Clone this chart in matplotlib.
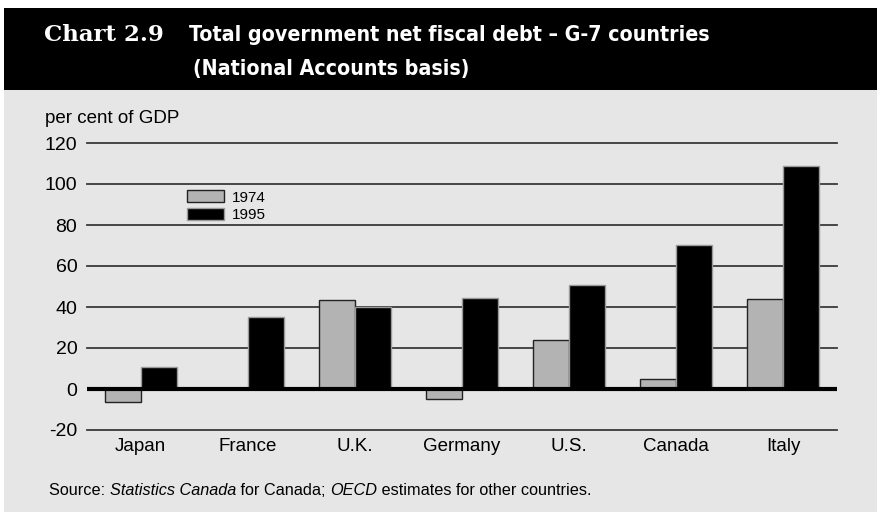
import numpy as np
import matplotlib
matplotlib.use("Agg")
import matplotlib.pyplot as plt
from matplotlib.patches import Rectangle
from matplotlib import font_manager

# data
countries = ["Japan", "France", "U.K.", "Germany", "U.S.", "Canada", "Italy"]
debt_1974 = [-6.3, 0, 43.3, -4.9, 23.7, 4.9, 43.9]
debt_1995 = [10.9, 35, 40, 44.4, 50.9, 70.2, 109]
yticks = [-20, 0, 20, 40, 60, 80, 100, 120]

plt.rcParams['font.family'] = ['Liberation Sans', 'DejaVu Sans']
plt.rcParams['axes.unicode_minus'] = False

W, H = 877, 512
fig = plt.figure(figsize=(W / 100, H / 100), dpi=100)
fig.patch.set_facecolor("white")

# background panels
fig.patches.append(Rectangle((4 / W, 0), 1, (H - 90) / H, transform=fig.transFigure,
                             facecolor="#e6e6e6", edgecolor="none", zorder=-5))
fig.patches.append(Rectangle((4 / W, (H - 90) / H), 1, 82 / H, transform=fig.transFigure,
                             facecolor="black", edgecolor="none", zorder=-5))

# title
fp = font_manager.FontProperties(family="DejaVu Sans", weight="bold", stretch="condensed")
fig.text(44 / W, 1 - 41 / H, "Chart 2.9", color="white", fontsize=16.5, fontweight="bold",
         family=["DejaVu Serif"], va="baseline")
fig.text(189 / W, 1 - 41 / H, "Total government net fiscal debt \u2013 G-7 countries",
         color="white", fontproperties=fp, fontsize=15.3, va="baseline")
fig.text(193 / W, 1 - 75 / H, "(National Accounts basis)",
         color="white", fontproperties=fp, fontsize=15.3, va="baseline")

ax = fig.add_axes([87 / W, (H - 430) / H, 750 / W, 287 / H])
ax.set_facecolor("none")

x = np.arange(len(countries))
w = 36 / 107
ax.bar(x - w / 2, debt_1974, w, color="#b3b3b3", edgecolor="#222222", linewidth=1, label="1974", zorder=3)
ax.bar(x + w / 2, debt_1995, w, color="black", edgecolor="#999999", linewidth=1, label="1995", zorder=3)

ax.set_xlim(-0.5, len(countries) - 0.5)
ax.set_ylim(-20, 120)
ax.set_yticks(yticks)
ax.set_xticks(x)
ax.set_xticklabels(countries)
ax.tick_params(axis="y", length=0, labelsize=14, pad=7)
ax.tick_params(axis="x", length=0, labelsize=13.5, pad=6)

for t in yticks:
    if t != 0:
        ax.axhline(t, color="#3a3a3a", linewidth=1.3, zorder=1, clip_on=False)
ax.axhline(0, color="black", linewidth=3, zorder=4)

for s in ax.spines.values():
    s.set_visible(False)

ax.legend(loc="upper left", bbox_to_anchor=(0.125, 0.856), frameon=False,
          prop={"family": ["Liberation Sans"], "size": 11},
          handlelength=2.4, handleheight=0.78, labelspacing=0.25, borderaxespad=0, handletextpad=0.57)

fig.text(45 / W, 1 - 123 / H, "per cent of GDP", fontsize=13.5, va="baseline")

src = [("Source: ", "normal"), ("Statistics Canada", "italic"), (" for Canada; ", "normal"),
       ("OECD", "italic"), (" estimates for other countries.", "normal")]
fig.canvas.draw()
r = fig.canvas.get_renderer()
xpos = 49 / W
for s, st in src:
    t = fig.text(xpos, 1 - 495 / H, s, fontsize=11.7, style=st, va="baseline")
    bb = t.get_window_extent(renderer=r)
    xpos += bb.width / fig.bbox.width

fig.savefig("out.png", dpi=100)
